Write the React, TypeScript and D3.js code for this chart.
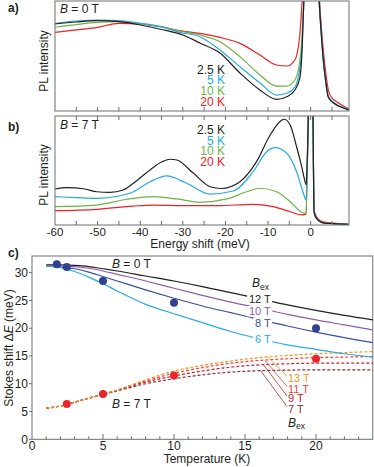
import React from "react";
import * as d3 from "d3";

const FONT = "'Liberation Sans', Arial, Helvetica, sans-serif";

// ---------- Panel a: B = 0 T spectra  [energy shift (meV), PL intensity (a.u.)]
const a_2p5K: [number, number][] = [[-60,0.791],[-55,0.809],[-50,0.821],[-45,0.812],[-40,0.782],[-35,0.741],[-30,0.691],[-26,0.618],[-21.3,0.527],[-16.6,0.345],[-11.9,0.191],[-8,0.106],[-5.6,0.13],[-3.7,0.191],[-2.5,0.309],[-2.1,0.49],[-1.6,1.0],[-1.0,1.6],[0.3,2.2],[1.4,1.6],[2.0,1.0],[2.5,0.7],[3.0,0.45],[3.5,0.28],[4.1,0.13],[5,0.085],[6.1,0.055],[7.5,0.03],[9,0.01]];
const a_5K: [number, number][] = [[-60,0.797],[-55,0.818],[-50,0.827],[-45,0.821],[-40,0.797],[-35,0.764],[-30.7,0.715],[-26,0.675],[-21.3,0.555],[-16.6,0.403],[-11.9,0.255],[-8,0.145],[-5.6,0.161],[-3.7,0.218],[-2.5,0.4],[-2.0,0.6],[-1.6,1.0],[-1.0,1.6],[0.3,2.2],[1.4,1.6],[2.0,1.0],[2.5,0.7],[3.0,0.46],[3.5,0.29],[4.1,0.14],[5,0.09],[6.1,0.06],[7.5,0.035],[9,0.012]];
const a_10K: [number, number][] = [[-60,0.761],[-55,0.786],[-50,0.806],[-45,0.812],[-40,0.797],[-35,0.768],[-30.7,0.727],[-26,0.691],[-21.3,0.63],[-16.6,0.494],[-11.9,0.327],[-8,0.227],[-5.6,0.227],[-3.7,0.282],[-2.5,0.464],[-2.0,0.7],[-1.6,1.0],[-1.0,1.6],[0.3,2.2],[1.4,1.6],[2.0,1.0],[2.5,0.7],[3.0,0.45],[3.5,0.28],[4.1,0.135],[5,0.085],[6.1,0.055],[7.5,0.03],[9,0.01]];
const a_20K: [number, number][] = [[-60,0.715],[-55,0.738],[-50,0.761],[-45,0.797],[-40,0.791],[-35,0.764],[-30.7,0.73],[-26,0.706],[-21.3,0.67],[-16.6,0.615],[-11.9,0.509],[-8,0.418],[-5.6,0.409],[-3.7,0.464],[-2.5,0.709],[-2.0,1.0],[-1.2,1.6],[0.3,2.2],[1.5,1.6],[2.1,1.0],[2.6,0.72],[3.1,0.5],[3.6,0.33],[4.2,0.18],[5,0.12],[6.1,0.085],[7.5,0.05],[9,0.02]];

// ---------- Panel b: B = 7 T spectra
const b_2p5K: [number, number][] = [[-60,0.33],[-57.3,0.342],[-53,0.33],[-50.2,0.305],[-47.1,0.3],[-44,0.321],[-41.6,0.383],[-37.7,0.505],[-35,0.578],[-33,0.603],[-31.4,0.596],[-27.5,0.474],[-23.6,0.351],[-21,0.335],[-16.6,0.397],[-12.7,0.581],[-9.5,0.826],[-6.2,0.97],[-4.8,0.917],[-3.3,0.718],[-2.1,0.535],[-1.3,0.397],[-1.05,0.37],[-0.6,0.9],[-0.3,1.4],[0.1,1.8],[0.5,1.2],[0.8,0.12],[1.3,0.065],[2.9,0.02],[5.3,0.012],[8.8,0.005]];
const b_5K: [number, number][] = [[-60,0.26],[-55,0.252],[-50.2,0.245],[-45,0.266],[-41.6,0.305],[-37.7,0.397],[-33.8,0.45],[-29.1,0.383],[-23.6,0.284],[-18.2,0.312],[-13.5,0.489],[-10.3,0.672],[-8.4,0.709],[-5.6,0.658],[-3.3,0.489],[-1.7,0.291],[-1.1,0.229],[-0.6,0.9],[-0.3,1.4],[0.1,1.8],[0.5,1.2],[0.8,0.12],[1.3,0.065],[2.9,0.02],[5.3,0.012],[8.8,0.005]];
const b_10K: [number, number][] = [[-60,0.168],[-50.2,0.183],[-43.2,0.236],[-36.9,0.26],[-31.4,0.239],[-26,0.208],[-19.7,0.239],[-15,0.305],[-11.9,0.337],[-8,0.305],[-4.8,0.214],[-2.1,0.117],[-1.1,0.107],[-0.6,0.9],[-0.3,1.4],[0.1,1.8],[0.5,1.2],[0.8,0.12],[1.3,0.065],[2.9,0.02],[5.3,0.012],[8.8,0.005]];
const b_20K: [number, number][] = [[-60,0.131],[-50.2,0.144],[-41.6,0.174],[-37,0.183],[-29,0.177],[-22,0.177],[-13.5,0.19],[-8.8,0.168],[-4.8,0.122],[-2.1,0.092],[-1.1,0.1],[-0.6,0.9],[-0.3,1.4],[0.1,1.8],[0.5,1.2],[0.8,0.14],[1.3,0.08],[2.9,0.03],[5.3,0.018],[8.8,0.008]];

const tempLabels = ["2.5 K", "5 K", "10 K", "20 K"];
const tempColors = ["#231f20", "#27aae1", "#6ab344", "#ed2024"];
const energyTicks = [-60, -50, -40, -30, -20, -10, 0];

// ---------- Panel c: Stokes shift vs temperature
const T_model = [1, 2, 3, 4, 5, 6, 8, 10, 12, 14, 16, 18, 20, 22, 24];
const s_12T = [31.4, 31.4, 31.3, 31.1, 30.7, 30.3, 29.4, 28.5, 27.5, 26.4, 25.3, 24.2, 23.2, 22.3, 21.5];
const s_10T = [31.2, 31.2, 31.1, 30.8, 30.3, 29.7, 28.5, 27.2, 25.9, 24.7, 23.6, 22.5, 21.5, 20.6, 19.7];
const s_8T = [31.2, 31.0, 30.7, 30.1, 29.3, 28.5, 26.9, 25.4, 24.0, 22.8, 21.6, 20.4, 19.3, 18.3, 17.4];
const s_6T = [31.2, 30.9, 30.2, 29.2, 28.0, 26.7, 24.3, 22.6, 21.0, 19.4, 18.1, 17.0, 16.2, 15.4, 14.8];
const d_13T = [5.6, 6.0, 6.7, 7.4, 8.1, 8.9, 10.7, 12.3, 13.3, 14.1, 14.7, 15.1, 15.4, 15.6, 15.8];
const d_11T = [5.6, 6.0, 6.7, 7.4, 8.1, 8.8, 10.5, 11.9, 12.9, 13.7, 14.2, 14.5, 14.7, 14.8, 14.9];
const d_9T = [5.6, 6.0, 6.7, 7.4, 8.1, 8.8, 10.3, 11.4, 12.3, 13.0, 13.4, 13.6, 13.7, 13.7, 13.7];
const d_7T = [5.6, 6.0, 6.7, 7.4, 8.1, 8.7, 10.0, 10.9, 11.6, 12.1, 12.35, 12.45, 12.5, 12.5, 12.5];

const T_meas0 = [1.75, 2.45, 5, 10, 20];
const dE_0T = [31.5, 31.0, 28.5, 24.6, 20.0];
const T_meas7 = [2.45, 5, 10, 20];
const dE_7T = [6.35, 8.15, 11.5, 14.5];

const solidSeries = [
  { label: "12 T", values: s_12T, color: "#231f20" },
  { label: "10 T", values: s_10T, color: "#8e5ea8" },
  { label: "8 T", values: s_8T, color: "#3a4fa0" },
  { label: "6 T", values: s_6T, color: "#27aae1" },
];
const dashedSeries = [
  { label: "13 T", values: d_13T, color: "#f7941d", leaderT: 16.6 },
  { label: "11 T", values: d_11T, color: "#ef4136", leaderT: 16.4 },
  { label: "9 T", values: d_9T, color: "#c8202f", leaderT: 16.3 },
  { label: "7 T", values: d_7T, color: "#8c2d2a", leaderT: 16.1 },
];

// ---------- layout
const W = 374, H = 467;
const xE = d3.scaleLinear().domain([-60, 9]).range([55, 349]);
const yA = d3.scaleLinear().domain([0, 1]).range([111, 1]);
const yB = d3.scaleLinear().domain([0, 1]).range([225, 116]);
const xT = d3.scaleLinear().domain([0, 24]).range([32, 372.8]);
const yS = d3.scaleLinear().domain([0, 33]).range([439.3, 256]);

const frameColor = "#6d6e71";
const textColor = "#231f20";

function interpAt(t: number, vals: number[]) {
  const i = d3.bisectRight(T_model, t) - 1;
  const j = Math.min(i + 1, T_model.length - 1);
  const f = (t - T_model[i]) / (T_model[j] - T_model[i] || 1);
  return vals[i] + f * (vals[j] - vals[i]);
}

function charW(s: string, fs: number) {
  let w = 0;
  for (const c of s) w += c === " " ? 0.278 : c === "T" ? 0.611 : 0.556;
  return w * fs;
}

export default function App() {
  const lineA = d3.line<[number, number]>().x(d => xE(d[0])).y(d => yA(d[1])).curve(d3.curveMonotoneX);
  const lineB = d3.line<[number, number]>().x(d => xE(d[0])).y(d => yB(d[1])).curve(d3.curveMonotoneX);
  const lineC = d3.line<number>().x((_, i) => xT(T_model[i])).y(d => yS(d)).curve(d3.curveMonotoneX);

  const aSeries = [a_2p5K, a_5K, a_10K, a_20K];
  const bSeries = [b_2p5K, b_5K, b_10K, b_20K];
  const minorE = d3.range(-55, 9, 5);
  const minorT = d3.range(1, 24, 1);
  const fs = 12;
  const tfs = 11.5;

  return (
    <svg width={W} height={H} style={{ position: "absolute", left: 0, top: 0, background: "#fff" }} fontFamily={FONT}>
      <defs>
        <clipPath id="clipA"><rect x={55} y={1} width={294} height={110} /></clipPath>
        <clipPath id="clipB"><rect x={55} y={116} width={294} height={109} /></clipPath>
        <clipPath id="clipC"><rect x={32} y={256} width={341} height={183} /></clipPath>
      </defs>

      {/* ---------------- Panel a ---------------- */}
      <text x={8} y={12} fontSize={12} fontWeight="bold" fill={textColor}>a)</text>
      <g clipPath="url(#clipA)">
        {[3, 2, 1, 0].map(i => (
          <path key={i} d={lineA(aSeries[i]) || ""} fill="none" stroke={tempColors[i]} strokeWidth={1.2} />
        ))}
      </g>
      <rect x={55} y={1} width={294} height={110} fill="none" stroke={frameColor} strokeWidth={1} />
      {minorE.map(e => (
        <line key={e} x1={xE(e)} x2={xE(e)} y1={111} y2={107} stroke={frameColor} />
      ))}
      <text x={60} y={13.3} fontSize={fs} fill={textColor}><tspan fontStyle="italic">B</tspan> = 0 T</text>
      {tempLabels.map((t, i) => (
        <text key={t} x={225} y={73.5 + i * 10.8} fontSize={fs} textAnchor="end" fill={tempColors[i]}>{t}</text>
      ))}
      <text transform={`translate(48,61) rotate(-90)`} fontSize={fs} textAnchor="middle" fill={textColor}>PL intensity</text>

      {/* ---------------- Panel b ---------------- */}
      <text x={8} y={131} fontSize={12} fontWeight="bold" fill={textColor}>b)</text>
      <g clipPath="url(#clipB)">
        {[3, 2, 1, 0].map(i => (
          <path key={i} d={lineB(bSeries[i]) || ""} fill="none" stroke={tempColors[i]} strokeWidth={1.2} />
        ))}
      </g>
      <rect x={55} y={116} width={294} height={109} fill="none" stroke={frameColor} strokeWidth={1} />
      {minorE.map(e => (
        <g key={e}>
          <line x1={xE(e)} x2={xE(e)} y1={116} y2={120} stroke={frameColor} />
          <line x1={xE(e)} x2={xE(e)} y1={225} y2={221} stroke={frameColor} />
        </g>
      ))}
      {energyTicks.map(e => (
        <text key={e} x={xE(e)} y={236} fontSize={tfs} textAnchor="middle" fill={textColor}>{e}</text>
      ))}
      <text x={60} y={129.3} fontSize={fs} fill={textColor}><tspan fontStyle="italic">B</tspan> = 7 T</text>
      {tempLabels.map((t, i) => (
        <text key={t} x={225} y={134 + i * 10.7} fontSize={fs} textAnchor="end" fill={tempColors[i]}>{t}</text>
      ))}
      <text transform={`translate(48,175) rotate(-90)`} fontSize={fs} textAnchor="middle" fill={textColor}>PL intensity</text>
      <text x={200} y={248} fontSize={fs} textAnchor="middle" fill={textColor}>Energy shift (meV)</text>

      {/* ---------------- Panel c ---------------- */}
      <text x={8} y={257} fontSize={12} fontWeight="bold" fill={textColor}>c)</text>
      <rect x={32} y={256} width={340.8} height={183.3} fill="none" stroke={frameColor} strokeWidth={1} />
      {minorT.map(t => (
        <line key={t} x1={xT(t)} x2={xT(t)} y1={439.3} y2={t % 5 === 0 ? 434 : 436.3} stroke={frameColor} />
      ))}
      {[0, 5, 10, 15, 20].map(t => (
        <text key={t} x={xT(t)} y={450} fontSize={fs} textAnchor="middle" fill={textColor}>{t}</text>
      ))}
      {[0, 5, 10, 15, 20, 25, 30].map(v => (
        <g key={v}>
          <line x1={29} x2={32} y1={yS(v)} y2={yS(v)} stroke={frameColor} />
          <text x={28} y={yS(v) + 4.2} fontSize={fs} textAnchor="end" fill={textColor}>{v}</text>
        </g>
      ))}
      <text transform={`translate(13,348) rotate(-90)`} fontSize={fs} textAnchor="middle" fill={textColor}>
        Stokes shift Δ<tspan fontStyle="italic">E</tspan> (meV)
      </text>
      <text x={207} y={463} fontSize={fs} textAnchor="middle" fill={textColor}>Temperature (K)</text>

      <g clipPath="url(#clipC)">
        {dashedSeries.slice().reverse().map(s => (
          <path key={s.label} d={lineC(s.values) || ""} fill="none" stroke={s.color} strokeWidth={1.2} strokeDasharray="3,2" />
        ))}
        {solidSeries.map(s => (
          <path key={s.label} d={lineC(s.values) || ""} fill="none" stroke={s.color} strokeWidth={1.2} />
        ))}
      </g>

      {/* solid curve labels */}
      {solidSeries.map((s, i) => {
        const ys = [303.3, 315, 326.7, 343.3][i];
        const w = charW(s.label, 11);
        return (
          <g key={s.label}>
            <rect x={270.7 - w - 1.5} y={ys - 9} width={w + 3} height={10.5} fill="#fff" />
            <text x={270.7} y={ys} fontSize={11} textAnchor="end" fill={s.color}>{s.label}</text>
          </g>
        );
      })}
      <text x={252} y={287.3} fontSize={12} fill={textColor}>
        <tspan fontStyle="italic">B</tspan><tspan fontSize={8.5} dy={2.5}>ex</tspan>
      </text>

      {/* dashed curve labels with leader lines */}
      {dashedSeries.map((s, i) => {
        const yl = [382, 392.5, 402, 412.5][i];
        const x0 = xT(s.leaderT), y0 = yS(interpAt(s.leaderT, s.values));
        return (
          <g key={s.label}>
            <line x1={x0} y1={y0} x2={287} y2={yl - 6} stroke={s.color} strokeWidth={0.8} />
            <text x={288} y={yl} fontSize={11} fill={s.color}>{s.label}</text>
          </g>
        );
      })}
      <text x={288} y={426.5} fontSize={12} fill={textColor}>
        <tspan fontStyle="italic">B</tspan><tspan fontSize={8.5} dy={2.5}>ex</tspan>
      </text>

      <text x={112} y={268.3} fontSize={fs} fill={textColor}><tspan fontStyle="italic">B</tspan> = 0 T</text>
      <text x={112} y={407.7} fontSize={fs} fill={textColor}><tspan fontStyle="italic">B</tspan> = 7 T</text>

      {T_meas0.map((t, i) => (
        <circle key={"b" + i} cx={xT(t)} cy={yS(dE_0T[i])} r={4} fill="#2e3f94" />
      ))}
      {T_meas7.map((t, i) => (
        <circle key={"r" + i} cx={xT(t)} cy={yS(dE_7T[i])} r={4} fill="#e8262b" />
      ))}
    </svg>
  );
}
